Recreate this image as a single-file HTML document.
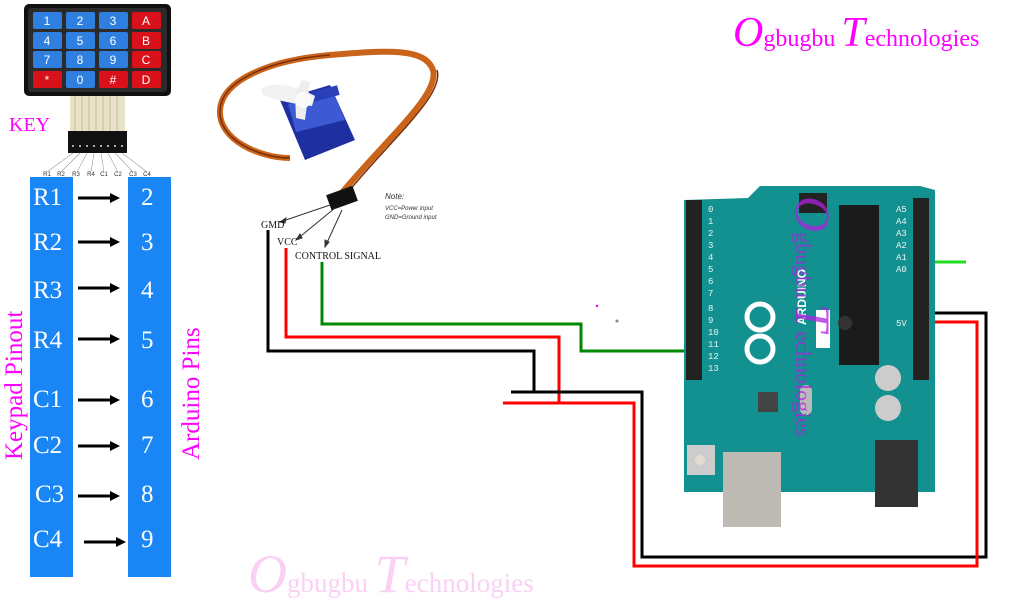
<!DOCTYPE html>
<html><head><meta charset="utf-8"><style>
html,body{margin:0;padding:0;background:#fff;width:1024px;height:603px;overflow:hidden}
svg{display:block}
</style></head><body>
<svg width="1024" height="603" viewBox="0 0 1024 603" xmlns="http://www.w3.org/2000/svg" font-family="Liberation Serif, serif">
<!-- keypad -->
<rect x="24" y="4" width="147" height="92" rx="5" fill="#111"/>
<rect x="28" y="8" width="139" height="84" rx="3" fill="#2b2b2b"/>
<g font-family="Liberation Sans, sans-serif" font-size="12" fill="#fff" text-anchor="middle">
<rect x="33" y="12" width="29" height="17" rx="2" fill="#2e7fe0"/><text x="47" y="25">1</text>
<rect x="66" y="12" width="29" height="17" rx="2" fill="#2e7fe0"/><text x="80" y="25">2</text>
<rect x="99" y="12" width="29" height="17" rx="2" fill="#2e7fe0"/><text x="113" y="25">3</text>
<rect x="132" y="12" width="29" height="17" rx="2" fill="#d8111a"/><text x="146" y="25">A</text>
<rect x="33" y="32" width="29" height="17" rx="2" fill="#2e7fe0"/><text x="47" y="45">4</text>
<rect x="66" y="32" width="29" height="17" rx="2" fill="#2e7fe0"/><text x="80" y="45">5</text>
<rect x="99" y="32" width="29" height="17" rx="2" fill="#2e7fe0"/><text x="113" y="45">6</text>
<rect x="132" y="32" width="29" height="17" rx="2" fill="#d8111a"/><text x="146" y="45">B</text>
<rect x="33" y="51" width="29" height="17" rx="2" fill="#2e7fe0"/><text x="47" y="64">7</text>
<rect x="66" y="51" width="29" height="17" rx="2" fill="#2e7fe0"/><text x="80" y="64">8</text>
<rect x="99" y="51" width="29" height="17" rx="2" fill="#2e7fe0"/><text x="113" y="64">9</text>
<rect x="132" y="51" width="29" height="17" rx="2" fill="#d8111a"/><text x="146" y="64">C</text>
<rect x="33" y="71" width="29" height="17" rx="2" fill="#d8111a"/><text x="47" y="84">*</text>
<rect x="66" y="71" width="29" height="17" rx="2" fill="#2e7fe0"/><text x="80" y="84">0</text>
<rect x="99" y="71" width="29" height="17" rx="2" fill="#d8111a"/><text x="113" y="84">#</text>
<rect x="132" y="71" width="29" height="17" rx="2" fill="#d8111a"/><text x="146" y="84">D</text>
</g>
<rect x="70" y="96" width="55" height="36" fill="#e8e2c8"/>
<g stroke="#c9bf95" stroke-width="1"><path d="M75 96V132M82 96V132M89 96V132M96 96V132M103 96V132M110 96V132M117 96V132"/></g>
<rect x="68" y="131" width="59" height="22" fill="#111"/>
<g fill="#aaa"><rect x="72" y="145" width="2" height="2"/><rect x="79" y="145" width="2" height="2"/><rect x="86" y="145" width="2" height="2"/><rect x="93" y="145" width="2" height="2"/><rect x="100" y="145" width="2" height="2"/><rect x="107" y="145" width="2" height="2"/><rect x="114" y="145" width="2" height="2"/><rect x="121" y="145" width="2" height="2"/></g>
<g stroke="#999" stroke-width="0.6"><path d="M73 153L47 172M80 153L61 172M87 153L77 172M94 153L91 172M101 153L104 172M108 153L118 172M115 153L133 172M122 153L147 172"/></g>
<g font-family="Liberation Sans, sans-serif" font-size="6" fill="#333" text-anchor="middle"><text x="47" y="176">R1</text><text x="61" y="176">R2</text><text x="76" y="176">R3</text><text x="91" y="176">R4</text><text x="104" y="176">C1</text><text x="118" y="176">C2</text><text x="133" y="176">C3</text><text x="147" y="176">C4</text></g>
<text x="9" y="131" font-size="20" fill="#f0f">KEY</text>
<!-- columns -->
<rect x="30" y="177" width="43" height="400" fill="#1a85f5"/>
<rect x="128" y="177" width="43" height="400" fill="#1a85f5"/>
<g font-size="25" fill="#fff">
<text x="33" y="205">R1</text><text x="33" y="250">R2</text><text x="33" y="298">R3</text><text x="33" y="348">R4</text>
<text x="33" y="407">C1</text><text x="33" y="453">C2</text><text x="35" y="502">C3</text><text x="33" y="547">C4</text>
<text x="141" y="205">2</text><text x="141" y="250">3</text><text x="141" y="298">4</text><text x="141" y="348">5</text>
<text x="141" y="407">6</text><text x="141" y="453">7</text><text x="141" y="502">8</text><text x="141" y="547">9</text>
</g>
<g stroke="#000" stroke-width="3"><path d="M78 198H112M78 242H112M78 288H112M78 339H112M78 400H112M78 446H112M78 496H112M84 542H118"/></g>
<g fill="#000"><path d="M110 193L120 198L110 203Z M110 237L120 242L110 247Z M110 283L120 288L110 293Z M110 334L120 339L110 344Z M110 395L120 400L110 405Z M110 441L120 446L110 451Z M110 491L120 496L110 501Z M116 537L126 542L116 547Z"/></g>
<text transform="translate(22,460) rotate(-90)" font-size="25" fill="#f0f">Keypad Pinout</text>
<text transform="translate(199,460) rotate(-90)" font-size="25" fill="#f0f">Arduino Pins</text>
<!-- servo cable -->
<g fill="none">
<path d="M340 195 C385 140 440 95 433 70 C425 48 390 50 330 55 C270 60 222 80 220 110 C218 140 260 158 290 158" stroke="#c9641a" stroke-width="6"/>
<path d="M344 197 C390 140 445 95 437 70" stroke="#7a2e08" stroke-width="1.5"/>
<path d="M330 55 C270 60 222 80 220 110 C218 140 260 158 290 158" stroke="#7a2e08" stroke-width="1.5"/>
</g>
<!-- servo body -->
<path d="M280 100 L330 85 L355 140 L305 160 Z" fill="#1e30a0"/>
<path d="M288 104 L333 92 L345 120 L296 132 Z" fill="#3d5ad4"/>
<rect x="304" y="90" width="35" height="10" fill="#2a40b8" transform="rotate(-15 320 95)"/>
<path d="M262 88 C275 80 300 88 315 96 L312 106 C295 104 272 100 262 94 Z" fill="#f2f2f2"/>
<path d="M295 95 L302 80 L310 82 L305 120 L296 118 Z" fill="#eee"/>
<circle cx="303" cy="100" r="8" fill="#fafafa"/>
<rect x="328" y="190" width="28" height="16" fill="#111" transform="rotate(-20 342 198)"/>
<g stroke="#333" stroke-width="1" fill="#333">
<path d="M330 205L280 222"/><path d="M280 222l6-4-1 5z"/>
<path d="M335 208L296 240"/><path d="M296 240l4-6 2 4z"/>
<path d="M342 210L325 247"/><path d="M325 247l0-7 4 2z"/>
</g>
<g font-family="Liberation Sans, sans-serif" font-size="6" font-style="italic" fill="#333">
<text x="385" y="199" font-size="8">Note:</text><text x="385" y="210">VCC=Power input</text><text x="385" y="219">GND=Ground input</text>
</g>
<g font-size="10" fill="#111"><text x="261" y="228">GMD</text><text x="277" y="245">VCC</text><text x="295" y="259">CONTROL SIGNAL</text></g>
<!-- wires -->
<g fill="none" stroke-width="3">
<path d="M268 230V351H534V392" stroke="#000"/>
<path d="M286 248V337H559V403" stroke="#f00"/>
<path d="M322 262V324H581V351H690" stroke="#080"/>
<path d="M511 392H642V557H986V313H930" stroke="#000"/>
<path d="M503 403H634V566H977V322H930" stroke="#f00"/>
<path d="M930 262H966" stroke="#2d2"/>
</g>
<!-- arduino -->
<path d="M684 200 L684 492 L935 492 L935 190 L920 186 L760 186 L748 198 Z" fill="#139090"/>
<rect x="686" y="200" width="16" height="180" fill="#222"/>
<rect x="913" y="198" width="16" height="182" fill="#222"/>
<rect x="839" y="205" width="40" height="160" fill="#1b1b1b"/>
<circle cx="845" cy="323" r="7" fill="#333"/>
<rect x="799" y="193" width="28" height="20" fill="#222"/>
<g font-family="Liberation Mono, monospace" font-size="9" fill="#e8f4f4">
<text x="708" y="212">0</text><text x="708" y="224">1</text><text x="708" y="236">2</text><text x="708" y="248">3</text><text x="708" y="260">4</text><text x="708" y="272">5</text><text x="708" y="284">6</text><text x="708" y="296">7</text><text x="708" y="311">8</text><text x="708" y="323">9</text><text x="708" y="335">10</text><text x="708" y="347">11</text><text x="708" y="359">12</text><text x="708" y="371">13</text>
<text x="896" y="212">A5</text><text x="896" y="224">A4</text><text x="896" y="236">A3</text><text x="896" y="248">A2</text><text x="896" y="260">A1</text><text x="896" y="272">A0</text><text x="896" y="326">5V</text>
</g>
<g fill="none" stroke="#fff" stroke-width="5"><circle cx="760" cy="317" r="13"/><circle cx="760" cy="349" r="13"/></g>
<text transform="translate(806,325) rotate(-90)" font-family="Liberation Sans, sans-serif" font-weight="bold" font-size="12" fill="#fff">ARDUINO</text>
<rect x="816" y="310" width="14" height="38" fill="#fff"/>
<circle cx="888" cy="378" r="13" fill="#ccc"/><circle cx="888" cy="408" r="13" fill="#ccc"/>
<rect x="758" y="392" width="20" height="20" fill="#444"/>
<rect x="800" y="385" width="12" height="30" rx="6" fill="#bbb"/>
<rect x="723" y="452" width="58" height="75" fill="#bdbab4"/>
<rect x="875" y="440" width="43" height="67" fill="#333"/>
<rect x="687" y="445" width="28" height="30" fill="#ccc"/><circle cx="700" cy="460" r="5" fill="#e0ddd0"/>
<g fill="#b020e0" fill-opacity="0.75"><text transform="translate(796,196) rotate(90)"><tspan font-size="50" font-style="italic">O</tspan><tspan font-size="22">gbugbu </tspan><tspan font-size="50" font-style="italic">T</tspan><tspan font-size="22">echnologies</tspan></text></g>
<!-- titles -->
<text x="733" y="46" fill="#f0f"><tspan font-size="42" font-style="italic">O</tspan><tspan font-size="24">gbugbu </tspan><tspan font-size="42" font-style="italic">T</tspan><tspan font-size="24">echnologies</tspan></text>
<text x="248" y="592" fill="#fad0f5"><tspan font-size="54" font-style="italic">O</tspan><tspan font-size="27">gbugbu </tspan><tspan font-size="54" font-style="italic">T</tspan><tspan font-size="27">echnologies</tspan></text>
<circle cx="617" cy="321" r="1.5" fill="#888"/><circle cx="597" cy="306" r="1.2" fill="#d0d"/>
</svg>
</body></html>
